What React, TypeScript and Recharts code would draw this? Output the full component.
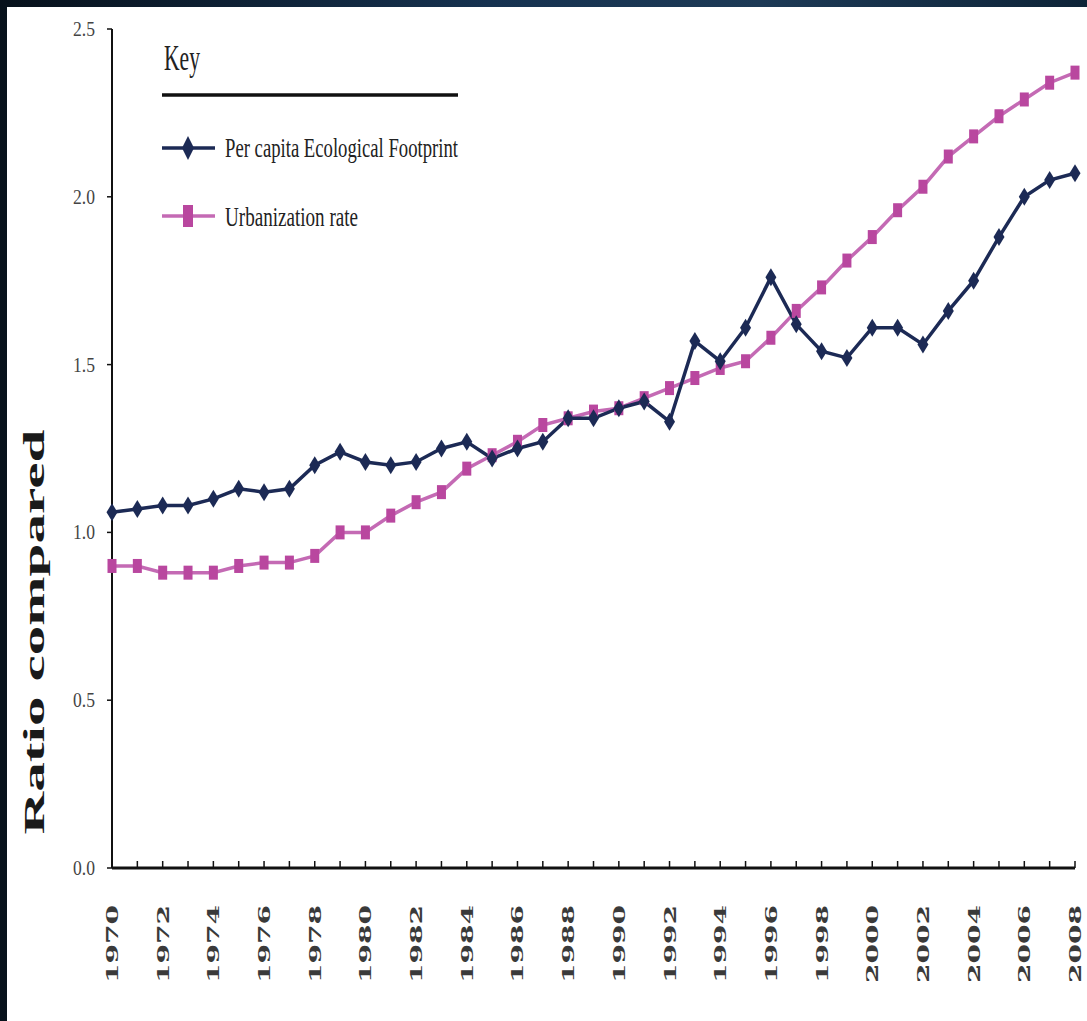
import React from "react";
import { LineChart, Line, XAxis, YAxis, Legend } from "recharts";

const years = [
  1970, 1971, 1972, 1973, 1974, 1975, 1976, 1977, 1978, 1979,
  1980, 1981, 1982, 1983, 1984, 1985, 1986, 1987, 1988, 1989,
  1990, 1991, 1992, 1993, 1994, 1995, 1996, 1997, 1998, 1999,
  2000, 2001, 2002, 2003, 2004, 2005, 2006, 2007, 2008,
];

// Per capita Ecological Footprint
const footprint = [
  1.06, 1.07, 1.08, 1.08, 1.10, 1.13, 1.12, 1.13, 1.20, 1.24,
  1.21, 1.20, 1.21, 1.25, 1.27, 1.22, 1.25, 1.27, 1.34, 1.34,
  1.37, 1.39, 1.33, 1.57, 1.51, 1.61, 1.76, 1.62, 1.54, 1.52,
  1.61, 1.61, 1.56, 1.66, 1.75, 1.88, 2.00, 2.05, 2.07,
];

// Urbanization rate
const urbanization = [
  0.90, 0.90, 0.88, 0.88, 0.88, 0.90, 0.91, 0.91, 0.93, 1.00,
  1.00, 1.05, 1.09, 1.12, 1.19, 1.23, 1.27, 1.32, 1.34, 1.36,
  1.37, 1.40, 1.43, 1.46, 1.49, 1.51, 1.58, 1.66, 1.73, 1.81,
  1.88, 1.96, 2.03, 2.12, 2.18, 2.24, 2.29, 2.34, 2.37,
];

const yTicks = [0, 0.5, 1, 1.5, 2, 2.5];
const seriesNames = ["Per capita Ecological Footprint", "Urbanization rate"];

const NAVY = "#1c2a55";
const PINK = "#b9479f";
const PINK_LINE = "#c46ab4";
const SERIF = "'Liberation Serif', 'DejaVu Serif', serif";

const data = years.map((year, i) => ({
  year,
  footprint: footprint[i],
  urbanization: urbanization[i],
}));

function Diamond({ cx, cy, w = 5.5, h = 9 }: any) {
  return (
    <path
      d={`M${cx},${cy - h} L${cx + w},${cy} L${cx},${cy + h} L${cx - w},${cy} Z`}
      fill={NAVY}
    />
  );
}

function Square({ cx, cy, w = 4.5, h = 7 }: any) {
  return <rect x={cx - w} y={cy - h} width={w * 2} height={h * 2} fill={PINK} />;
}

function YearTick({ x, y, payload }: any) {
  const yr = payload.value;
  return (
    <g>
      <line x1={x} x2={x} y1={y} y2={y - 7} stroke="#111" strokeWidth={1.5} />
      {yr % 2 === 0 && (
        <text
          transform={`translate(${x},${y + 37}) rotate(-90)`}
          textAnchor="end"
          dominantBaseline="central"
          fontFamily="'DejaVu Serif', serif"
          fontSize={17}
          fontWeight={600}
          fill="#3a3a3a"
          textLength={78}
          lengthAdjust="spacingAndGlyphs"
        >
          {yr}
        </text>
      )}
    </g>
  );
}

function ValueTick({ x, y, payload }: any) {
  return (
    <text
      x={x}
      y={y}
      textAnchor="end"
      dominantBaseline="central"
      fontFamily={SERIF}
      fontSize={20}
      fill="#444"
      textLength={22}
      lengthAdjust="spacingAndGlyphs"
    >
      {payload.value.toFixed(1)}
    </text>
  );
}

function KeyBox() {
  return (
    <svg width={420} height={220} style={{ overflow: "visible" }}>
      <text x={14} y={42} fontFamily={SERIF} fontSize={36} fill="#222"
        textLength={36} lengthAdjust="spacingAndGlyphs">Key</text>
      <line x1={12} x2={308} y1={67} y2={67} stroke="#111" strokeWidth={3.5} />
      <line x1={12} x2={65} y1={120} y2={120} stroke={NAVY} strokeWidth={3.5} />
      <Diamond cx={38} cy={120} w={6} h={12} />
      <text x={75} y={129} fontFamily={SERIF} fontSize={28} fill="#222"
        textLength={233} lengthAdjust="spacingAndGlyphs">{seriesNames[0]}</text>
      <line x1={12} x2={65} y1={188} y2={188} stroke={PINK_LINE} strokeWidth={3.5} />
      <Square cx={38} cy={188} w={5} h={11} />
      <text x={75} y={198} fontFamily={SERIF} fontSize={28} fill="#222"
        textLength={133} lengthAdjust="spacingAndGlyphs">{seriesNames[1]}</text>
    </svg>
  );
}

export default function App() {
  return (
    <div
      style={{
        position: "fixed",
        left: 0,
        top: 0,
        width: 1087,
        height: 1021,
        overflow: "hidden",
        background: "linear-gradient(90deg, #07111b 0%, #163250 45%, #1d3a56 70%, #0e2438 100%)",
      }}
    >
      <div style={{ position: "absolute", left: 7, top: 7, right: 0, bottom: 0, background: "#fff" }} />
      <div style={{ position: "absolute", left: 0, top: 0 }}>
        <LineChart
          width={1087}
          height={1021}
          data={data}
          margin={{ top: 29, right: 12, bottom: 8, left: 62 }}
        >
          <XAxis
            dataKey="year"
            type="number"
            domain={[1970, 2008]}
            ticks={years}
            interval={0}
            height={145}
            tickSize={0}
            tickMargin={0}
            tickLine={false}
            axisLine={{ stroke: "#111", strokeWidth: 3 }}
            tick={<YearTick />}
          />
          <YAxis
            type="number"
            domain={[0, 2.5]}
            ticks={yTicks}
            width={50}
            tickSize={5}
            tickMargin={12}
            tickLine={{ stroke: "#111", strokeWidth: 1.5 }}
            axisLine={{ stroke: "#111", strokeWidth: 2 }}
            tick={<ValueTick />}
            label={{
              content: () => (
                <text
                  transform="translate(44,632) rotate(-90)"
                  textAnchor="middle"
                  fontFamily={SERIF}
                  fontWeight="bold"
                  fontSize={30}
                  fill="#1a1a1a"
                  textLength={405}
                  lengthAdjust="spacingAndGlyphs"
                >
                  Ratio compared
                </text>
              ),
            }}
          />
          <Legend
            layout="horizontal"
            verticalAlign="middle"
            align="center"
            wrapperStyle={{ left: 150, top: 28, width: 420, height: 220 }}
            content={() => <KeyBox />}
          />
          <Line
            type="linear"
            dataKey="urbanization"
            name={seriesNames[1]}
            stroke={PINK_LINE}
            strokeWidth={3.5}
            dot={(p: any) => <Square key={`u${p.index}`} cx={p.cx} cy={p.cy} />}
            activeDot={false}
            isAnimationActive={false}
          />
          <Line
            type="linear"
            dataKey="footprint"
            name={seriesNames[0]}
            stroke={NAVY}
            strokeWidth={3.5}
            dot={(p: any) => <Diamond key={`f${p.index}`} cx={p.cx} cy={p.cy} />}
            activeDot={false}
            isAnimationActive={false}
          />
        </LineChart>
      </div>
    </div>
  );
}
